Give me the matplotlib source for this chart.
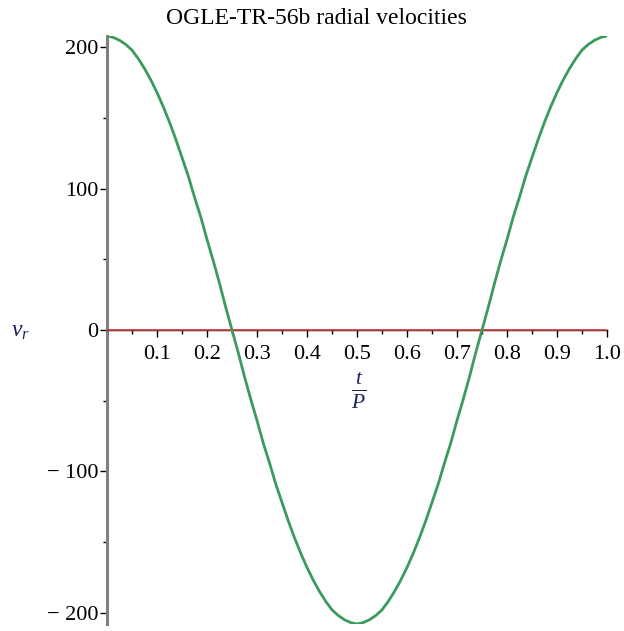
import numpy as np
import matplotlib.pyplot as plt
from matplotlib.ticker import MultipleLocator

# phase t/P and radial velocity (step 0.0125)
phase = [i * 0.0125 for i in range(81)]
quarter = [208, 207, 205, 202, 198, 192, 185, 177, 168, 158, 147,
           135, 122, 109, 94, 80, 64, 49, 33, 16, 0]
v_planet = (quarter
            + [-v for v in quarter[-2::-1]]
            + [-v for v in quarter[1:]]
            + quarter[-2::-1])
v_star = [0] * 81

x_ticks = [0.1, 0.2, 0.3, 0.4, 0.5, 0.6, 0.7, 0.8, 0.9, 1.0]
y_ticks = [-200, -100, 0, 100, 200]
y_tick_labels = ["\u2212 200", "\u2212 100", "0", "100", "200"]

plt.rcParams['font.family'] = ['Liberation Serif', 'DejaVu Serif']
plt.rcParams['mathtext.fontset'] = 'custom'
plt.rcParams['mathtext.it'] = 'Liberation Serif:italic'
plt.rcParams['mathtext.rm'] = 'Liberation Serif'

fig = plt.figure(figsize=(6.24, 6.31), dpi=100)
ax = fig.add_axes([107 / 624, 7 / 631, 500 / 624, 588 / 631])

ax.plot(phase, v_star, color="#d83a3a", lw=1.2, zorder=3)
ax.plot(phase, v_planet, color="#3a9b5c", lw=2.0, zorder=4)

ax.set_xlim(0, 1.0)
ax.set_ylim(-208, 208)

for s in ['top', 'right']:
    ax.spines[s].set_visible(False)
ax.spines['left'].set_position(('data', 0))
ax.spines['left'].set_color('#808080')
ax.spines['left'].set_linewidth(2.2)
ax.spines['bottom'].set_position(('data', 0))
ax.spines['bottom'].set_linewidth(1.0)

ax.xaxis.set_major_locator(plt.FixedLocator(x_ticks))
ax.xaxis.set_minor_locator(MultipleLocator(0.05))
ax.set_xticklabels([f"{t:.1f}" for t in x_ticks])
ax.set_yticks(y_ticks)
ax.set_yticklabels(y_tick_labels)
ax.yaxis.set_minor_locator(MultipleLocator(50))

ax.tick_params(axis='x', which='major', direction='out', length=5, width=1,
               labelsize=16, pad=6)
ax.tick_params(axis='x', which='minor', direction='out', length=3, width=1)
ax.tick_params(axis='y', which='major', direction='out', length=5, width=1,
               labelsize=16, pad=1)
ax.tick_params(axis='y', which='minor', direction='out', length=3, width=1)

fig.text(316 / 624, 1 - 18 / 631, "OGLE-TR-56b radial velocities",
         fontsize=17, ha='center', va='center')
fig.text(20 / 624, 1 - 331 / 631, r"$v_r$", fontsize=17, color="#1a2060",
         ha='center', va='center')
fig.text(359 / 624, 1 - 391 / 631, r"$\frac{t}{P}$", fontsize=22,
         color="#1a2060", ha='center', va='center')

plt.savefig("out.png", dpi=100)
